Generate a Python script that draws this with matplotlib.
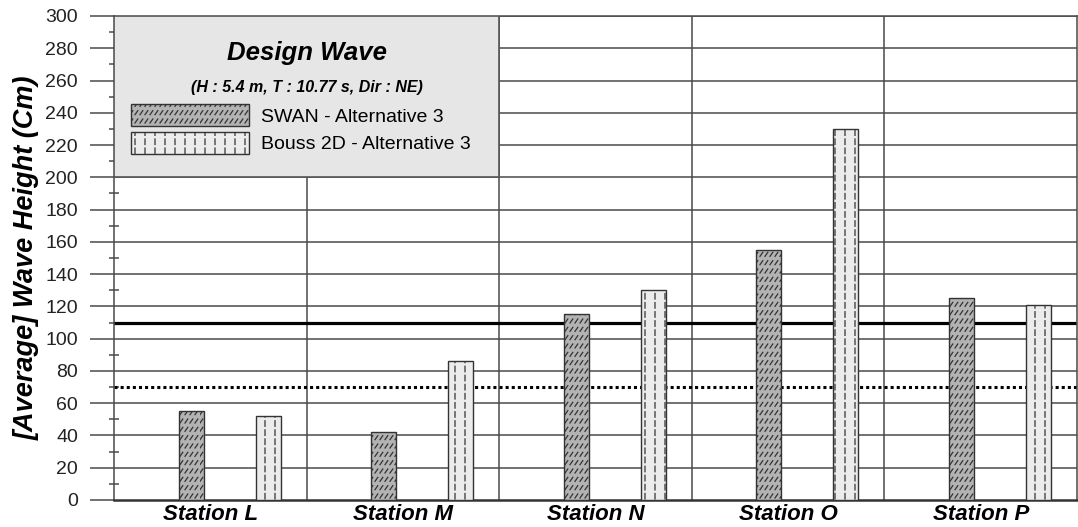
import numpy as np
import matplotlib
matplotlib.use("Agg")
import matplotlib.pyplot as plt
from matplotlib import hatch as mhatch
from matplotlib.patches import Rectangle
from matplotlib.ticker import MultipleLocator

stations = ["Station L", "Station M", "Station N", "Station O", "Station P"]
swan = [55, 42, 115, 155, 125]
bouss = [52, 86, 130, 230, 121]
series_labels = ["SWAN - Alternative 3", "Bouss 2D - Alternative 3"]
limit_upper = 110
limit_lower = 70
title = "Design Wave"
subtitle = "(H : 5.4 m, T : 10.77 s, Dir : NE)"
ylabel = "[Average] Wave Height (Cm)"


# Short-stroke fill patterns: '/' -> rows of short slashes, '|' -> columns of short dashes
class ShortSlashes(mhatch.HatchPatternBase):
    rows, cols = 12, 20

    def __init__(self, hatch, density):
        self.on = hatch.count('/') > 0
        self.num_lines = self.rows * self.cols if self.on else 0
        self.num_vertices = self.num_lines * 2

    def set_vertices_and_codes(self, vertices, codes):
        k = 0
        for r in range(self.rows):
            for c in range(self.cols):
                x0 = c / self.cols
                y0 = r / self.rows + 0.02
                vertices[k] = (x0, y0)
                vertices[k + 1] = (x0 + 0.028, y0 + 0.04)
                codes[k] = mhatch.Path.MOVETO
                codes[k + 1] = mhatch.Path.LINETO
                k += 2


class ShortDashes(mhatch.HatchPatternBase):
    rows, cols = 11, 10

    def __init__(self, hatch, density):
        self.on = hatch.count('|') > 0
        self.num_lines = self.rows * self.cols if self.on else 0
        self.num_vertices = self.num_lines * 2

    def set_vertices_and_codes(self, vertices, codes):
        k = 0
        for r in range(self.rows):
            for c in range(self.cols):
                x0 = (c + 0.5) / self.cols
                y0 = r / self.rows + 0.01
                vertices[k] = (x0, y0)
                vertices[k + 1] = (x0, y0 + 0.055)
                codes[k] = mhatch.Path.MOVETO
                codes[k + 1] = mhatch.Path.LINETO
                k += 2


mhatch._hatch_types = [ShortSlashes, ShortDashes]

plt.rcParams['font.family'] = ['Liberation Sans', 'DejaVu Sans']
plt.rcParams['hatch.linewidth'] = 0.9

fig = plt.figure(figsize=(10.78, 5.27), dpi=100)
ax = fig.add_axes([114 / 1078, 27 / 527, 963 / 1078, 484 / 527])

n = len(stations)
x = np.arange(n)
bw = 0.13
grid_c = "#4a4a4a"

ax.set_xlim(0, n)
ax.set_ylim(0, 300)

# grid
for yv in range(20, 301, 20):
    ax.axhline(yv, color=grid_c, lw=1.1, zorder=1)
for xv in range(1, n):
    ax.axvline(xv, color=grid_c, lw=1.1, zorder=1)

# reference levels
ax.axhline(limit_upper, color="black", lw=2.3, zorder=2)
ax.axhline(limit_lower, color="black", lw=2.2, ls=(0, (1, 1)), zorder=2)

b1 = ax.bar(x + 0.40, swan, bw, facecolor="#b3b3b3", edgecolor="#333333",
            lw=1.0, hatch='/', zorder=3, label=series_labels[0])
b2 = ax.bar(x + 0.80, bouss, bw, facecolor="#ececec", edgecolor="#333333",
            lw=1.0, hatch='|', zorder=3, label=series_labels[1])

# legend panel
ax.add_patch(Rectangle((0, 200), 2, 100, facecolor="#e6e6e6", edgecolor="#555555",
                       lw=1.2, zorder=4))
ax.text(1.0, 277, title, ha="center", va="center", fontsize=18.5,
        fontweight="bold", style="italic", zorder=5)
ax.text(1.0, 255.5, subtitle, ha="center", va="center", fontsize=11.5,
        fontweight="bold", style="italic", zorder=5)
leg = ax.legend(handles=[b1, b2], loc="upper left", bbox_to_anchor=(0.088, 245.5),
                bbox_transform=ax.transData, frameon=False, fontsize=14,
                handlelength=6.08, handleheight=1.38, handletextpad=0.62,
                labelspacing=0.28, borderpad=0, borderaxespad=0)
leg.set_zorder(6)

# axes styling
ax.set_xticks(x + 0.5)
ax.set_xticklabels(stations, fontsize=16, fontweight="bold", style="italic")
ax.tick_params(axis="x", length=0, pad=3)
ax.yaxis.set_major_locator(MultipleLocator(20))
ax.yaxis.set_minor_locator(MultipleLocator(10))
ax.tick_params(axis="y", which="major", direction="out", length=17, width=1.1,
               color=grid_c, labelsize=14, labelcolor="#222222", pad=9)
ax.tick_params(axis="y", which="minor", direction="inout", length=7, width=1.1,
               color=grid_c)
ax.set_ylabel(ylabel, fontsize=19.5, fontweight="bold", style="italic", labelpad=4)
for s in ["left", "right", "top"]:
    ax.spines[s].set_color(grid_c)
    ax.spines[s].set_linewidth(1.1)
ax.spines["bottom"].set_color("#333333")
ax.spines["bottom"].set_linewidth(1.8)

fig.savefig("out.png", dpi=100)
